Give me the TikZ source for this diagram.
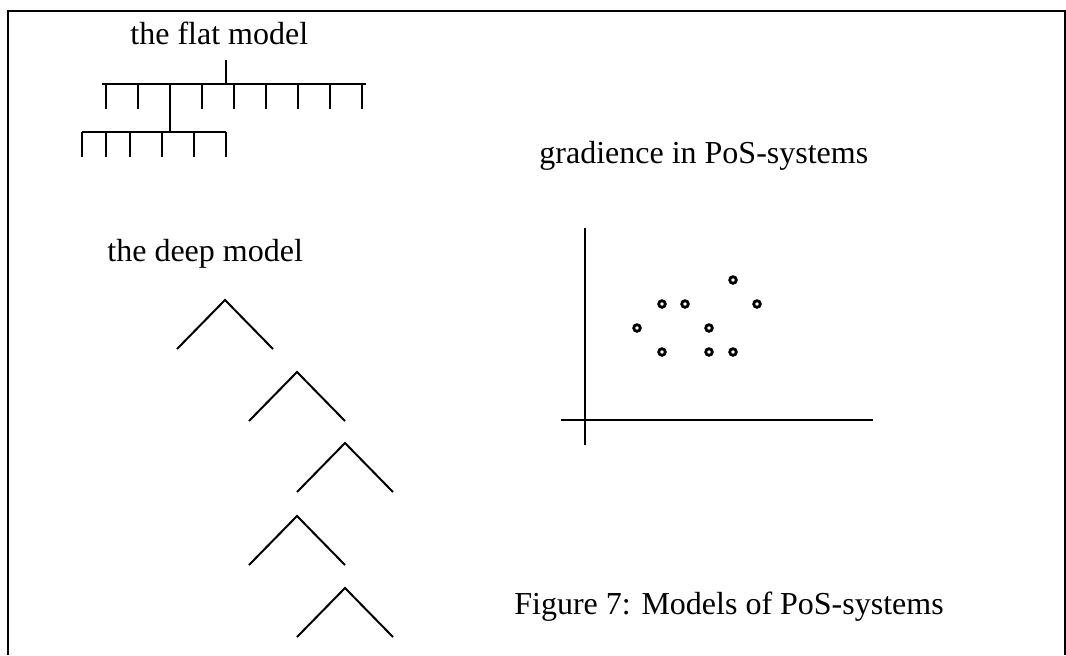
\documentclass[tikz,border=0pt]{standalone}
\usepackage{fontspec}
\setmainfont{Liberation Serif}
\begin{document}
\begin{tikzpicture}[x=0.5pt,y=-0.5pt,
  line/.style={line width=1pt,line cap=butt},
  frame/.style={line width=1pt},
  dot/.style={line width=1.4pt},
  label/.style={anchor=base west,inner sep=0pt,font=\fontsize{16}{19}\selectfont}]
\useasboundingbox (0,0) rectangle (1066,655);

% open frame round the figure
\draw[frame] (8,655) -- (8,11) -- (1064.5,11) -- (1064.5,655);

% labels
\node[label] (flat)  at (130,44)  {the flat model};
\node[label] (deep)  at (107,261) {the deep model};
\node[label] (grad)  at (539,163) {gradience in PoS-systems};
\node[label] (cap)   at (514,614) {Figure 7: Models of PoS-systems};

% the flat model: a wide two-level tree
\draw[line] (226,60) -- (226,84);
\draw[line] (102,84) -- (366,84);
\foreach \x in {106,138,202,234,266,298,330,362}
  \draw[line] (\x,84) -- (\x,109);
\draw[line] (170,84) -- (170,132);
\draw[line] (82,132) -- (226,132);
\foreach \x in {82,106,130,162,194,226}
  \draw[line] (\x,132) -- (\x,157);

% the deep model: a chain of binary branchings
\foreach \ax/\ay in {225/300, 297/372, 345/443, 297/516, 345/588}
  \draw[line] (\ax-48,\ay+49) -- (\ax,\ay) -- (\ax+48,\ay+49);

% gradience: axes and scattered points
\draw[line] (585,228) -- (585,445);
\draw[line] (561,420) -- (873,420);
\foreach \px/\py in {733/280, 662/304, 685/304, 757/304, 637/328,
                     709/328, 662/352, 709/352, 733/352}
  \draw[dot] (\px,\py) circle (3.3);
\end{tikzpicture}
\end{document}
